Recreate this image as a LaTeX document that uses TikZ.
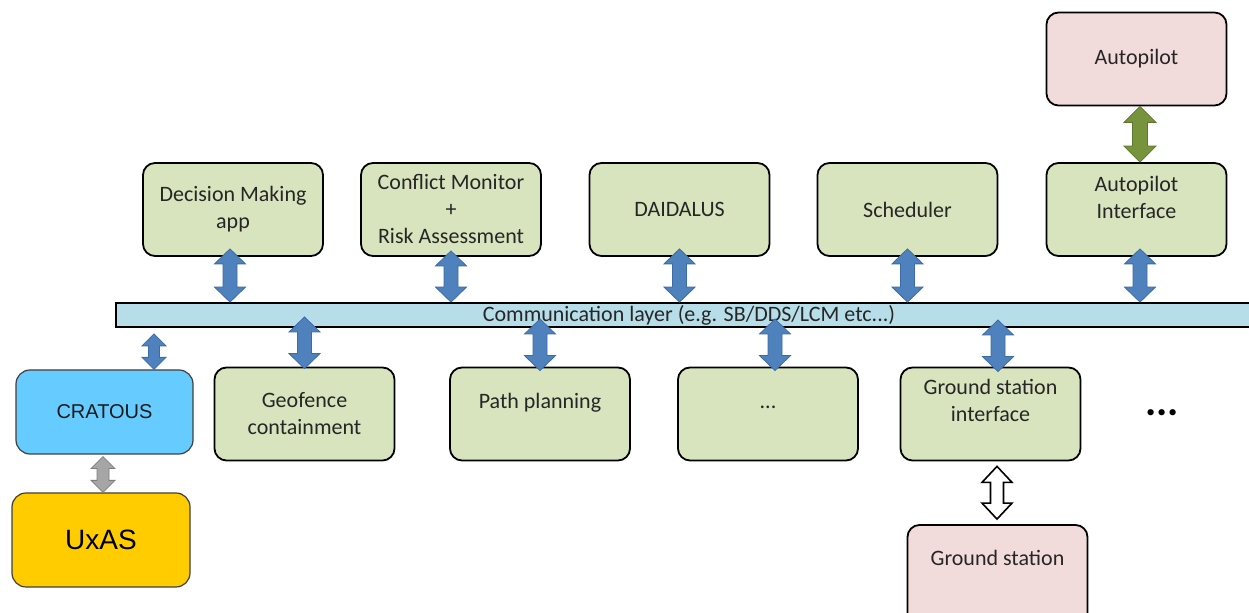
\documentclass[tikz,border=0pt]{standalone}
\usepackage{fontspec}
\setmainfont{Carlito}
\newfontfamily\arialf{Liberation Sans}
\usetikzlibrary{calc}
\definecolor{boxgreen}{HTML}{D7E4BD}
\definecolor{boxpink}{HTML}{F2DCDB}
\definecolor{barblue}{HTML}{B7DEE8}
\definecolor{cratblue}{HTML}{66CCFF}
\definecolor{uxasyellow}{HTML}{FFCC00}
\definecolor{arrblue}{HTML}{4F81BD}
\definecolor{arrblueline}{HTML}{3C6CA8}
\definecolor{arrgreen}{HTML}{77933C}
\definecolor{arrgray}{HTML}{A6A6A6}
\definecolor{txtgray}{HTML}{262626}
\newcommand\vdarr[6]{%
  \draw[#1] let \p1=(#5), \p2=(#6) in
    (\x1,\y1) -- (\x1+#2,\y1-#4) -- (\x1+#3,\y1-#4) -- (\x1+#3,\y2+#4) -- (\x1+#2,\y2+#4) -- (\x1,\y2)
    -- (\x1-#2,\y2+#4) -- (\x1-#3,\y2+#4) -- (\x1-#3,\y1-#4) -- (\x1-#2,\y1-#4) -- cycle;}
\tikzset{
  txt/.style={font=\fontsize{11}{13.5}\selectfont, text=txtgray, align=center},
  gbox/.style={draw=black, line width=0.9pt, rounded corners=6pt, fill=boxgreen,
    minimum width=90pt, minimum height=46.5pt, inner sep=0pt, txt},
  pbox/.style={gbox, fill=boxpink},
  barrow/.style={fill=arrblue, draw=arrblueline, line width=0.4pt, line join=miter},
  garrow/.style={fill=arrgreen, draw=arrgreen!80!black, line width=0.4pt},
  grarrow/.style={fill=arrgray, draw=arrgray!75!black, line width=0.4pt},
  warrow/.style={fill=white, draw=black, line width=0.8pt},
}
\begin{document}
\begin{tikzpicture}[x=0.5pt,y=-0.5pt]
\useasboundingbox (0,0) rectangle (1249,613);
\clip (0,0) rectangle (1249,613);

% communication bar
\node[draw=black, line width=0.9pt, fill=barblue, minimum width=573pt, minimum height=12pt,
  inner sep=0pt, txt] (comm) at (689,315) {Communication layer (e.g. SB/DDS/LCM etc...)};

% top row
\node[gbox] (dec) at (233,209.5) {Decision Making\\app};
\node[gbox] (con) at (451,209.5) {Conflict Monitor\\+\\Risk Assessment};
\node[gbox] (dai) at (679.5,209.5) {DAIDALUS};
\node[gbox] (sch) at (907.5,209.5) {Scheduler};
\node[gbox, label={[txt, yshift=6.25pt]center:{Autopilot\\Interface}}] (api) at (1136.5,209.5) {};
\node[pbox] (ap) at (1136.5,59) {Autopilot};

% bottom row
\node[gbox] (geo) at (304.5,414) {Geofence\\containment};
\node[gbox, label={[txt, yshift=5.5pt]center:{Path planning}}] (pp) at (540,414) {};
\node[gbox, label={[txt, yshift=3.5pt]center:{...}}] (etc) at (768,414) {};
\node[gbox, label={[txt, yshift=6.75pt]center:{Ground station\\interface}}] (gsi) at (990.5,414) {};
\node[pbox, minimum height=57.5pt, label={[txt, yshift=12.25pt]center:{Ground station}}] (gs) at (997.5,582.5) {};
\node[font=\fontsize{21}{21}\selectfont\bfseries, text=black, inner sep=0pt] (more) at (1162,413) {...};

% left side
\node[draw=black!75, line width=0.6pt, rounded corners=7pt, fill=cratblue, minimum width=88.5pt,
  minimum height=42pt, inner sep=0pt, font=\arialf\fontsize{10}{12}\selectfont, text=black!90] (crat) at (104.5,412) {CRATOUS};
\node[draw=black!75, line width=0.6pt, rounded corners=7pt, fill=uxasyellow, minimum width=89pt,
  minimum height=47pt, inner sep=0pt, font=\arialf\fontsize{14}{16}\selectfont, text=black] (uxas) at (101,540) {UxAS};

% arrows: top boxes <-> bar
\vdarr{barrow}{7.75pt}{3.5pt}{7.5pt}{[xshift=-1.5pt,yshift=4pt]dec.south}{[xshift=-1.5pt]dec.south |- comm.north}
\vdarr{barrow}{7.75pt}{3.5pt}{7.5pt}{[yshift=3pt]con.south}{con.south |- comm.north}
\vdarr{barrow}{7.75pt}{3.5pt}{7.5pt}{[yshift=4pt]dai.south}{dai.south |- comm.north}
\vdarr{barrow}{7.75pt}{3.5pt}{7.5pt}{[yshift=4pt]sch.south}{sch.south |- comm.north}
\vdarr{barrow}{7.75pt}{3.5pt}{7.5pt}{[xshift=1.75pt,yshift=4pt]api.south}{[xshift=1.75pt]api.south |- comm.north}
% autopilot <-> interface
\vdarr{garrow}{8pt}{3.75pt}{8pt}{[xshift=1.75pt]ap.south}{[xshift=1.75pt]api.north}
% bar <-> bottom boxes
\vdarr{barrow}{7.75pt}{3.5pt}{7.5pt}{[yshift=-1pt]geo.north |- comm.center}{[yshift=-1pt]geo.north}
\vdarr{barrow}{7.75pt}{3.5pt}{7.5pt}{[yshift=-2pt]pp.north |- comm.center}{[yshift=-2pt]pp.north}
\vdarr{barrow}{7.75pt}{3.5pt}{7.5pt}{[xshift=3.5pt,yshift=-2pt]etc.north |- comm.center}{[xshift=3.5pt,yshift=-2pt]etc.north}
\vdarr{barrow}{7.75pt}{3.5pt}{7.5pt}{[xshift=3.75pt,yshift=-2.5pt]gsi.north |- comm.center}{[xshift=3.75pt,yshift=-2.5pt]gsi.north}
% bar <-> CRATOUS
\coordinate (cratTop) at ($(crat.north)+(49.5,0)$);
\vdarr{barrow}{6pt}{2.75pt}{6pt}{[yshift=-3pt]cratTop |- comm.south}{cratTop}
% CRATOUS <-> UxAS
\vdarr{grarrow}{6pt}{3pt}{6pt}{[xshift=-0.75pt,yshift=-1pt]crat.south}{[xshift=1pt]uxas.north}
% ground station interface <-> ground station
\vdarr{warrow}{7.5pt}{3.25pt}{8pt}{[xshift=3.25pt,yshift=-2.5pt]gsi.south}{[yshift=2.5pt]gs.north}
\end{tikzpicture}
\end{document}
